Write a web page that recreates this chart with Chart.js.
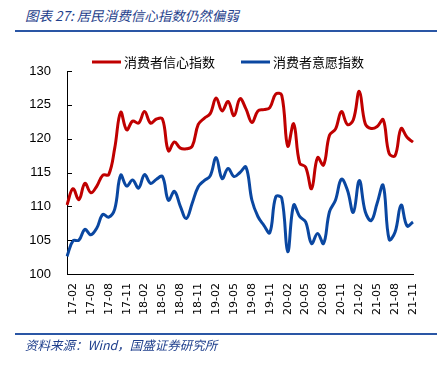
<!DOCTYPE html>
<html>
<head>
<meta charset="utf-8">
<script src="https://cdn.jsdelivr.net/npm/chart.js@4/dist/chart.umd.min.js"></script>
<style>
  html, body { margin: 0; padding: 0; background: #fff; }
  #wrap { position: relative; width: 444px; height: 365px; overflow: hidden; }
  #chart { position: absolute; left: 0; top: 0; }
  .title { position: absolute; left: 25px; top: 5px; font: italic 13.5px "Noto Sans CJK SC"; color: #1f3f8c; white-space: nowrap; }
  .rule { position: absolute; left: 15px; width: 422px; height: 2px; background: #2a56a5; }
  .source { position: absolute; left: 25px; top: 335px; font: italic 12.5px "Noto Sans CJK SC"; color: #1f3f8c; white-space: nowrap; }
</style>
</head>
<body>
<div id="wrap">
  <div class="title">图表 27: 居民消费信心指数仍然偏弱</div>
  <div class="rule" style="top:30px"></div>
  <canvas id="chart" width="444" height="365"></canvas>
  <div class="rule" style="top:333px"></div>
  <div class="source">资料来源：Wind，国盛证券研究所</div>
</div>
<script>
// monthly, 2017-01 .. 2021-11
const months = []
for (let y = 17; y <= 21; y++) {
    for (let m = 1; m <= 12; m++) {
        if (y === 21 && m > 11) break
        months.push(y + '-' + String(m).padStart(2, '0'))
    }
}

const confidence = [
    110.2, 112.6, 111.0, 113.4, 112.0, 113.0, 114.6, 114.7, 118.6, 123.9, 121.3, 122.6,
    122.3, 124.0, 122.3, 122.9, 122.9, 118.2, 119.5, 118.6, 118.5, 118.9, 122.1, 123.0,
    123.7, 126.0, 124.1, 125.5, 123.4, 125.9, 124.4, 122.4, 124.1, 124.3, 124.6, 126.6,
    126.4, 118.9, 122.2, 116.4, 115.8, 112.6, 117.2, 116.1, 120.5, 121.4, 124.0, 122.1,
    122.8, 127.0, 122.2, 121.5, 121.8, 122.8, 117.8, 117.5, 121.5, 120.2, 119.5
]

const willingness = [
    102.6, 104.9, 105.0, 106.6, 105.8, 106.8, 108.8, 108.4, 109.6, 114.6, 113.0, 113.9,
    112.7, 114.7, 113.4, 114.0, 114.4, 110.9, 112.2, 110.0, 108.2, 110.5, 112.9, 113.8,
    114.5, 117.2, 114.1, 115.6, 114.4, 115.0, 115.8, 110.9, 108.5, 107.2, 106.1, 111.4,
    111.2, 103.3, 110.2, 108.5, 107.7, 104.5, 106.0, 104.5, 109.2, 110.9, 114.0, 112.4,
    109.1, 113.8, 109.2, 107.9, 110.5, 113.1, 105.1, 106.2, 110.2, 107.1, 107.7
]

const seriesNames = ['消费者信心指数', '消费者意愿指数']
const seriesColors = ['#c00000', '#0a47a1']

// legend with line samples, plus inward tick marks on the y axis
const extras = {
    id: 'extras',
    afterDraw(chart) {
        const ctx = chart.ctx
        ctx.save()
        // y ticks pointing into the plot
        const ys = chart.scales.y
        ctx.strokeStyle = '#000'
        ctx.lineWidth = 1
        ys.ticks.forEach((t, i) => {
            const py = Math.round(ys.getPixelForTick(i)) + 0.5
            ctx.beginPath()
            ctx.moveTo(ys.right, py)
            ctx.lineTo(ys.right + 5, py)
            ctx.stroke()
        })
        // legend
        ctx.font = '13px "Noto Sans CJK SC"'
        ctx.textBaseline = 'middle'
        let x = 92
        const y = 62
        chart.data.datasets.forEach(ds => {
            ctx.strokeStyle = ds.borderColor
            ctx.lineWidth = 3
            ctx.beginPath()
            ctx.moveTo(x, y)
            ctx.lineTo(x + 29, y)
            ctx.stroke()
            ctx.fillStyle = '#000'
            ctx.fillText(ds.label, x + 32, y)
            x += 32 + ctx.measureText(ds.label).width + 26
        })
        ctx.restore()
    }
}

new Chart(document.getElementById('chart'), {
    type: 'line',
    data: {
        labels: months,
        datasets: [
            { label: seriesNames[0], data: confidence, borderColor: seriesColors[0] },
            { label: seriesNames[1], data: willingness, borderColor: seriesColors[1] },
        ]
    },
    options: {
        responsive: false,
        animation: false,
        layout: { padding: { left: 10, right: 31, top: 71, bottom: 31 } },
        elements: {
            line: { borderWidth: 3, tension: 0.4, fill: false },
            point: { radius: 0 }
        },
        plugins: {
            legend: { display: false },
            tooltip: { enabled: false }
        },
        scales: {
            x: {
                offset: false,
                grid: { display: true, drawOnChartArea: false, drawTicks: false },
                border: { display: true, color: '#000', width: 1 },
                ticks: {
                    autoSkip: false,
                    minRotation: 90,
                    maxRotation: 90,
                    padding: 9,
                    color: '#000',
                    font: { family: 'DejaVu Sans', size: 11 },
                    callback: (v, i) => (i % 3 === 1 ? months[i] : '')
                },
                afterFit: s => { s.height = 60 }
            },
            y: {
                min: 100,
                max: 130,
                grid: { display: true, drawOnChartArea: false, drawTicks: false },
                border: { display: true, color: '#000', width: 1 },
                ticks: {
                    stepSize: 5,
                    padding: 16,
                    color: '#000',
                    font: { family: 'Liberation Sans', size: 13 }
                },
                afterFit: s => { s.width = 57 }
            }
        }
    },
    plugins: [extras]
})
</script>
</body>
</html>
